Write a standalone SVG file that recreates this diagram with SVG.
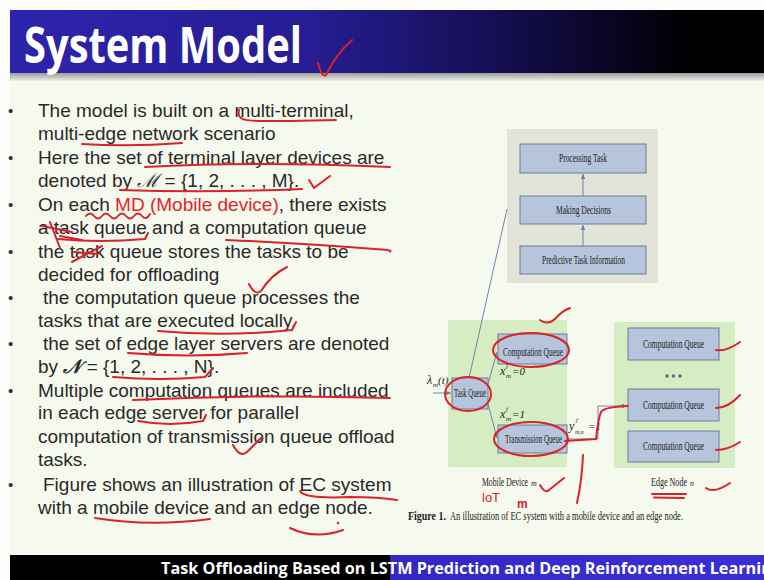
<svg xmlns="http://www.w3.org/2000/svg" width="764" height="580" viewBox="0 0 764 580">
<defs>
<linearGradient id="titleGrad" x1="0" y1="0" x2="1" y2="0">
<stop offset="0" stop-color="#2d24ad"/>
<stop offset="0.4" stop-color="#261d93"/>
<stop offset="0.68" stop-color="#120c48"/>
<stop offset="0.9" stop-color="#000000"/>
</linearGradient>
<linearGradient id="shadowGrad" x1="0" y1="0" x2="0" y2="1">
<stop offset="0" stop-color="#9c9c98"/>
<stop offset="1" stop-color="#eceee6"/>
</linearGradient>
<linearGradient id="footGrad" x1="0" y1="0" x2="1" y2="0">
<stop offset="0" stop-color="#3328c4"/>
<stop offset="1" stop-color="#3a2fd6"/>
</linearGradient>
<marker id="arr" markerWidth="6" markerHeight="6" refX="5" refY="3" orient="auto" markerUnits="userSpaceOnUse">
<path d="M0,0.8 L5,3 L0,5.2 z" fill="#6b7c9c"/>
</marker>
<style>
.body{font-family:"Liberation Sans",Arial,sans-serif;font-size:19px;fill:#2a2a2a}
.red{fill:#e0262b}
.bul{font-family:"Liberation Sans",Arial,sans-serif;font-size:15px;fill:#333333}
.panelGray{fill:#e2e4d8}
.panelGreen{fill:#d6ecc2}
.box{fill:#b6c5db;stroke:#6b7c9a;stroke-width:1}
.lbl{font-family:"Liberation Serif","Times New Roman",serif;font-size:12px;fill:#222222}
.conn{fill:none;stroke:#7384a6;stroke-width:1}
.ann{fill:none;stroke:#d9222a;stroke-width:2;stroke-linecap:round;stroke-linejoin:round}
.math{font-family:"Liberation Serif","Times New Roman",serif;font-style:italic;fill:#222222}
.hand{font-family:"Liberation Sans",Arial,sans-serif;fill:#d9222a}
</style>
</defs>

<!-- background -->
<rect x="0" y="0" width="764" height="580" fill="#fcfcfa"/>
<rect x="10" y="10" width="754" height="570" fill="#f6f9ee"/>

<!-- title bar -->
<g id="title">
<rect x="10" y="10" width="754" height="63" fill="url(#titleGrad)"/>
<rect x="10" y="73" width="754" height="8" fill="url(#shadowGrad)"/>
<text x="24" y="63" font-family="'Open Sans','Liberation Sans',sans-serif" font-weight="bold" font-size="50" fill="#ffffff" textLength="278" lengthAdjust="spacingAndGlyphs">System Model</text>
</g>

<!-- bullet text -->
<g id="bullets">
<text class="bul" x="8" y="116">•</text>
<text class="bul" x="8" y="163">•</text>
<text class="bul" x="8" y="210">•</text>
<text class="bul" x="8" y="257">•</text>
<text class="bul" x="8" y="303">•</text>
<text class="bul" x="8" y="349">•</text>
<text class="bul" x="8" y="396">•</text>
<text class="bul" x="8" y="490">•</text>

<text class="body" x="38" y="117">The model is built on a multi-terminal,</text>
<text class="body" x="38" y="140">multi-edge network scenario</text>
<text class="body" x="38" y="164">Here the set of terminal layer devices are</text>
<text class="body" x="38" y="187">denoted by <tspan font-family="'DejaVu Serif','Liberation Serif',serif" font-style="italic">ℳ</tspan> = {1, 2, . . . , M}.</text>
<text class="body" x="38" y="211">On each <tspan class="red">MD (Mobile device)</tspan>, there exists</text>
<text class="body" x="38" y="234">a task queue and a computation queue</text>
<text class="body" x="38" y="258">the task queue stores the tasks to be</text>
<text class="body" x="38" y="281">decided for offloading</text>
<text class="body" x="43" y="304">the computation queue processes the</text>
<text class="body" x="38" y="327">tasks that are executed locally.</text>
<text class="body" x="43" y="350">the set of edge layer servers are denoted</text>
<text class="body" x="38" y="373">by <tspan font-family="'Liberation Serif',serif" font-style="italic" font-weight="bold">𝒩</tspan> = {1, 2, . . . , N}.</text>
<text class="body" x="38" y="397">Multiple computation queues are included</text>
<text class="body" x="38" y="419">in each edge server for parallel</text>
<text class="body" x="38" y="443">computation of transmission queue offload</text>
<text class="body" x="38" y="466">tasks.</text>
<text class="body" x="43" y="491">Figure shows an illustration of EC system</text>
<text class="body" x="38" y="514">with a mobile device and an edge node.</text>
</g>

<!-- diagram panels -->
<g id="panel-top"><rect class="panelGray" x="507" y="129" width="151" height="154"/></g>
<g id="panel-mobile"><rect class="panelGreen" x="448" y="320" width="119" height="147"/></g>
<g id="panel-edge"><rect class="panelGreen" x="614" y="322" width="121" height="146"/></g>

<g id="node-processing">
<rect class="box" x="520" y="144" width="126" height="29"/>
<text class="lbl" x="559" y="162" textLength="48" lengthAdjust="spacingAndGlyphs">Processing Task</text>
</g>
<g id="node-decisions">
<rect class="box" x="520" y="196" width="126" height="28"/>
<text class="lbl" x="556" y="214" textLength="55" lengthAdjust="spacingAndGlyphs">Making Decisions</text>
</g>
<g id="node-predictive">
<rect class="box" x="520" y="246" width="126" height="28"/>
<text class="lbl" x="542" y="264" textLength="83" lengthAdjust="spacingAndGlyphs">Predictive Task Information</text>
</g>

<g id="node-taskqueue">
<rect class="box" x="452" y="378" width="36" height="31"/>
<text class="lbl" x="454" y="397" font-size="11" textLength="32" lengthAdjust="spacingAndGlyphs">Task Queue</text>
</g>
<g id="node-md-computation">
<rect class="box" x="498" y="334" width="69" height="30"/>
<text class="lbl" x="503" y="356" textLength="60" lengthAdjust="spacingAndGlyphs">Computation Queue</text>
</g>
<g id="node-transmission">
<rect class="box" x="498" y="425" width="69" height="28"/>
<text class="lbl" x="505" y="443" textLength="57" lengthAdjust="spacingAndGlyphs">Transmission Queue</text>
</g>

<g id="node-edge-cq1">
<rect class="box" x="628" y="328" width="91" height="32"/>
<text class="lbl" x="643" y="348" textLength="61" lengthAdjust="spacingAndGlyphs">Computation Queue</text>
</g>
<g id="edge-dots">
<circle cx="667" cy="376" r="1.7" fill="#5a6a8a"/>
<circle cx="673.5" cy="376" r="1.7" fill="#5a6a8a"/>
<circle cx="680" cy="376" r="1.7" fill="#5a6a8a"/>
</g>
<g id="node-edge-cq2">
<rect class="box" x="628" y="389" width="91" height="32"/>
<text class="lbl" x="643" y="409" textLength="61" lengthAdjust="spacingAndGlyphs">Computation Queue</text>
</g>
<g id="node-edge-cq3">
<rect class="box" x="628" y="431" width="91" height="31"/>
<text class="lbl" x="643" y="450" textLength="61" lengthAdjust="spacingAndGlyphs">Computation Queue</text>
</g>

<!-- connectors -->
<g id="connectors">
<line class="conn" x1="583" y1="246" x2="583" y2="225" marker-end="url(#arr)"/>
<line class="conn" x1="583" y1="196" x2="583" y2="174" marker-end="url(#arr)"/>
<line class="conn" x1="469" y1="378" x2="507" y2="209"/>
<line class="conn" x1="433" y1="393" x2="451" y2="393" marker-end="url(#arr)"/>
<line class="conn" x1="488" y1="384" x2="497" y2="352" marker-end="url(#arr)"/>
<line class="conn" x1="488" y1="404" x2="497" y2="438" marker-end="url(#arr)"/>
<polyline class="conn" points="567,439 598,439 598,406 627,406" marker-end="url(#arr)"/>
</g>

<!-- math labels -->
<g id="math-labels">
<text class="math" x="427" y="384" font-size="12">λ</text>
<text class="math" x="433" y="387" font-size="7">m</text>
<text class="math" x="438" y="384" font-size="11" font-style="normal">(<tspan font-style="italic">t</tspan>)</text>
<text class="math" x="500" y="375" font-size="12">x</text>
<text class="math" x="506" y="368" font-size="7">j</text>
<text class="math" x="506" y="378" font-size="7">m</text>
<text class="math" x="512" y="375" font-size="11" font-style="normal">=0</text>
<text class="math" x="500" y="418" font-size="12">x</text>
<text class="math" x="506" y="411" font-size="7">j</text>
<text class="math" x="506" y="421" font-size="7">m</text>
<text class="math" x="512" y="418" font-size="11" font-style="normal">=1</text>
<text class="math" x="569" y="430" font-size="12">y</text>
<text class="math" x="576" y="422" font-size="7">j</text>
<text class="math" x="575" y="434" font-size="6">m,n</text>
<text class="math" x="588" y="430" font-size="11" font-style="normal">=1</text>
</g>

<!-- captions -->
<g id="captions">
<text class="lbl" x="482" y="486" textLength="46" lengthAdjust="spacingAndGlyphs">Mobile Device</text>
<text class="math" x="531" y="486" font-size="8">m</text>
<text class="lbl" x="651" y="486" textLength="36" lengthAdjust="spacingAndGlyphs">Edge Node</text>
<text class="math" x="690" y="486" font-size="8">n</text>
<text class="lbl" x="408" y="520" font-weight="bold" textLength="38" lengthAdjust="spacingAndGlyphs">Figure 1.</text>
<text class="lbl" x="450" y="520" textLength="233" lengthAdjust="spacingAndGlyphs">An illustration of EC system with a mobile device and an edge node.</text>
</g>

<!-- footer -->
<g id="footer">
<rect x="10" y="555" width="380" height="25" fill="#000000"/>
<rect x="390" y="555" width="374" height="25" fill="url(#footGrad)"/>
<text x="161" y="574" font-family="'Open Sans','Liberation Sans',sans-serif" font-weight="bold" font-size="16" fill="#ffffff" textLength="620" lengthAdjust="spacingAndGlyphs">Task Offloading Based on LSTM Prediction and Deep Reinforcement Learning</text>
</g>

<!-- red pen annotations -->
<g id="annotations">
<path class="ann" d="M318,63 Q322,78 326,75 Q336,54 352,40"/>
<path class="ann" d="M239,110 C236,123 250,121 290,121 L336,120"/>
<path class="ann" d="M82,144 Q130,147 182,143"/>
<path class="ann" d="M145,167 Q260,161 390,167"/>
<path class="ann" d="M120,190 Q210,193 302,189"/>
<path class="ann" d="M309,180 L314,188 L330,176"/>
<path class="ann" d="M86,216 q4,-5 8,0 t8,0 t8,0 t8,0 t8,0 t8,0 t8,0 t8,-2" stroke-width="1.3"/>
<path class="ann" d="M42,226 L72,232 M50,222 L60,248 M60,236 L82,240" stroke-width="1.5"/>
<path class="ann" d="M58,239 Q100,243 145,239 L148,233"/>
<path class="ann" d="M226,240 Q300,243 388,250"/>
<circle cx="390" cy="251" r="1.5" fill="#d9222a"/>
<path class="ann" d="M72,262 L102,246 M74,252 L98,254" stroke-width="1.5"/>
<path class="ann" d="M249,284 Q255,296 261,291 Q271,275 287,267"/>
<path class="ann" d="M158,331 Q225,337 292,330 L296,322"/>
<path class="ann" d="M128,353 Q190,358 247,353"/>
<path class="ann" d="M113,377 Q160,381 205,377 L213,368"/>
<path class="ann" d="M133,400 Q260,394 390,398"/>
<path class="ann" d="M138,421 Q170,427 203,421 L206,415"/>
<path class="ann" d="M233,445 Q240,458 247,452 L262,437"/>
<path class="ann" d="M300,491 Q304,499 350,497 Q380,497 397,500"/>
<path class="ann" d="M95,518 Q150,527 210,519"/>
<path class="ann" d="M290,528 Q315,540 343,530"/>
<circle cx="338" cy="523" r="1.3" fill="#d9222a"/>

<path class="ann" d="M540,320 Q548,326 556,318 Q562,311 570,308"/>
<ellipse class="ann" cx="531" cy="350" rx="38" ry="17"/>
<ellipse class="ann" cx="468" cy="394" rx="23" ry="17"/>
<ellipse class="ann" cx="531" cy="439" rx="37" ry="17"/>
<path class="ann" d="M565,441 L596,439 Q598,420 601,412 Q604,407 628,406"/>
<path class="ann" d="M583,455 Q582,480 577,503"/>
<path class="ann" d="M716,350 Q726,352 740,342"/>
<path class="ann" d="M716,408 Q728,408 740,395"/>
<path class="ann" d="M716,450 Q728,450 740,442"/>
<path class="ann" d="M540,485 Q545,494 549,490 L564,478"/>
<text class="hand" x="482" y="502" font-size="13">loT</text>
<text class="hand" x="517" y="508" font-size="12" font-weight="bold">m</text>
<path class="ann" d="M652,494 L686,494 M654,497.5 L684,498" stroke-width="1.5"/>
<path class="ann" d="M706,488 Q714,494 730,483"/>
</g>
</svg>
